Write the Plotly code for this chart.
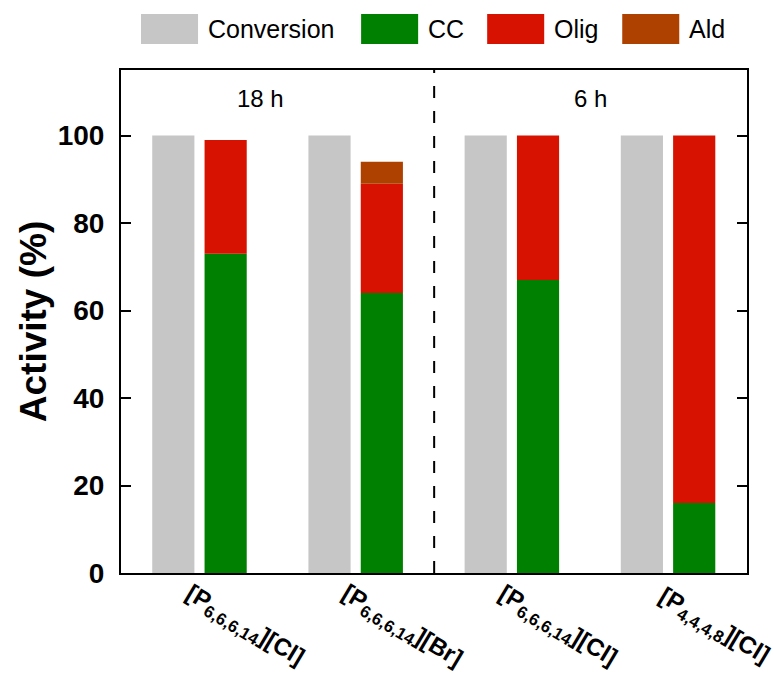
import plotly.graph_objects as go

# Catalyst labels (HTML subscripts for the phosphonium chain lengths)
catalysts = [
    "[P<sub>6,6,6,14</sub>][Cl]",
    "[P<sub>6,6,6,14</sub>][Br]",
    "[P<sub>6,6,6,14</sub>][Cl]",
    "[P<sub>4,4,4,8</sub>][Cl]",
]
x_pos = [0, 1, 2, 3]

# Activity (%) per catalyst
conversion = [100, 100, 100, 100]
cc = [73, 64, 67, 16]
olig = [26, 25, 33, 84]
ald = [0, 5, 0, 0]

series_names = ["Conversion", "CC", "Olig", "Ald"]
colors = {"Conversion": "#c6c6c6", "CC": "#008000", "Olig": "#d71200", "Ald": "#ae4100"}

time_labels = ["18 h", "6 h"]
time_label_x = [0.385, 2.5]
divider_x = 1.5

FONT = "Liberation Sans, Arial, sans-serif"
BAR_W = 0.27

fig = go.Figure()

fig.add_trace(go.Bar(x=x_pos, y=conversion, width=BAR_W, offset=-0.305,
                     marker=dict(color=colors["Conversion"], line=dict(width=0)),
                     name="Conversion"))

olig_base = cc
ald_base = [a + b for a, b in zip(cc, olig)]
for name, vals, base in [("CC", cc, [0] * 4), ("Olig", olig, olig_base), ("Ald", ald, ald_base)]:
    fig.add_trace(go.Bar(x=x_pos, y=vals, base=base, width=BAR_W, offset=0.03,
                         marker=dict(color=colors[name], line=dict(width=0)),
                         name=name))

# Divider between the 18 h and 6 h runs
fig.add_shape(type="line", xref="x", yref="paper", x0=divider_x, x1=divider_x, y0=0, y1=1,
              line=dict(color="black", width=2, dash="12px,13px"))

annotations = []
for txt, xv in zip(time_labels, time_label_x):
    annotations.append(dict(x=xv, y=108.5, xref="x", yref="y", text=txt, showarrow=False,
                            font=dict(family=FONT, size=24, color="black"),
                            xanchor="center", yanchor="middle"))

# Rotated category labels under each group
for xv, lab in zip(x_pos, catalysts):
    annotations.append(dict(x=xv, y=-0.107, xref="x", yref="paper", xshift=45,
                            text="<b>" + lab + "</b>", showarrow=False, textangle=31,
                            font=dict(family=FONT, size=24, color="black"),
                            xanchor="center", yanchor="middle"))

# Legend drawn as swatches + labels across the top
PLOT_L, PLOT_W, PLOT_B, PLOT_H = 121, 625.7, 573, 503
def px_to_paper_x(px):
    return (px - PLOT_L) / PLOT_W
def px_to_paper_y(py):
    return (PLOT_B - py) / PLOT_H

legend_swatch_px = [141, 361, 487, 622]
for name, sx in zip(series_names, legend_swatch_px):
    fig.add_shape(type="rect", xref="paper", yref="paper",
                  x0=px_to_paper_x(sx), x1=px_to_paper_x(sx + 57),
                  y0=px_to_paper_y(44), y1=px_to_paper_y(14),
                  fillcolor=colors[name], line=dict(width=0))
    annotations.append(dict(x=px_to_paper_x(sx + 65), y=px_to_paper_y(29),
                            xref="paper", yref="paper", text=name, showarrow=False,
                            font=dict(family=FONT, size=25, color="black"),
                            xanchor="left", yanchor="middle"))

fig.update_layout(
    width=774, height=673,
    margin=dict(l=121, r=27, t=70, b=100),
    paper_bgcolor="white", plot_bgcolor="white",
    barmode="overlay", showlegend=False,
    font=dict(family=FONT, color="black"),
    annotations=annotations,
    xaxis=dict(range=[-0.505, 3.503], showgrid=False, zeroline=False,
               showline=True, linecolor="black", linewidth=2, mirror=True,
               ticks="", showticklabels=False),
    yaxis=dict(range=[0, 115], tickvals=[0, 20, 40, 60, 80, 100],
               showgrid=False, zeroline=False,
               showline=True, linecolor="black", linewidth=2, mirror="ticks",
               ticks="inside", ticklen=10, tickwidth=2, tickcolor="black",
               ticklabelstandoff=9,
               tickfont=dict(family=FONT, size=28, color="black", weight="bold"),
               title=dict(text="<b>Activity (%)</b>", standoff=0,
                          font=dict(family=FONT, size=37, color="black"))),
)

fig.write_html("out.html")
